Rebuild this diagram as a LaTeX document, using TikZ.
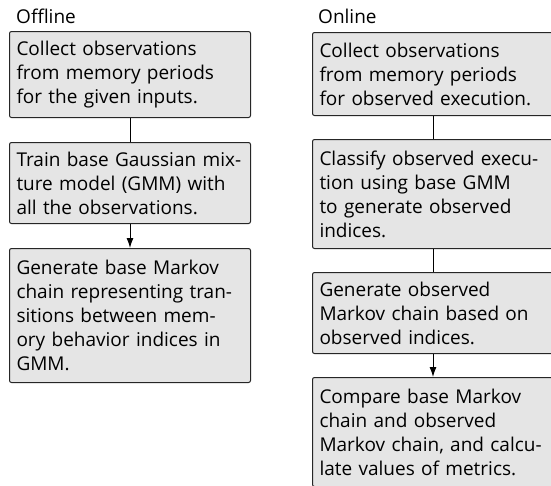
\documentclass[tikz,border=0pt]{standalone}
\usepackage{fontspec}
\setmainfont{Open Sans}
\usetikzlibrary{arrows.meta}
\begin{document}
\begin{tikzpicture}[x=1pt,y=-1pt,
  stepbox/.style={draw=black!85, line width=1pt, fill=black!10, rounded corners=2pt,
    anchor=north west, text width=227pt, inner xsep=7pt, inner ysep=0pt, align=left,
    font=\fontsize{19pt}{24pt}\selectfont},
  lbl/.style={anchor=base west, inner sep=0pt, font=\fontsize{19pt}{24pt}\selectfont},
  link/.style={draw=black, line width=1pt},
  arr/.style={link, -{Latex[length=10pt,width=7pt]}}]
\useasboundingbox (0,0) rectangle (551,485);
\clip (0,0) rectangle (551,485);
\node[lbl] (toff) at (16,23) {Offline};
\node[lbl] (ton) at (318,23) {Online};
\node[stepbox, minimum height=86pt] (L1) at (9,31) {Collect observations\\from memory periods\\for the given inputs.};
\node[stepbox, minimum height=81pt] (L2) at (9,142) {Train base Gaussian mix-\\ture model (GMM) with\\all the observations.};
\node[stepbox, minimum height=134pt] (L3) at (9,248) {Generate base Markov\\chain representing tran-\\sitions between mem-\\ory behavior indices in\\GMM.};
\node[stepbox, minimum height=83pt] (R1) at (312,32) {Collect observations\\from memory periods\\for observed execution.};
\node[stepbox, minimum height=109pt] (R2) at (312,139) {Classify observed execu-\\tion using base GMM\\to generate observed\\indices.};
\node[stepbox, minimum height=81pt] (R3) at (312,272) {Generate observed\\Markov chain based on\\observed indices.};
\node[stepbox, minimum height=109pt] (R4) at (312,377) {Compare base Markov\\chain and observed\\Markov chain, and calcu-\\late values of metrics.};
\draw[link] (L1) -- (L2);
\draw[arr] (L2) -- (L3);
\draw[link] (R1) -- (R2);
\draw[link] (R2) -- (R3);
\draw[arr] (R3) -- (R4);
\end{tikzpicture}
\end{document}
